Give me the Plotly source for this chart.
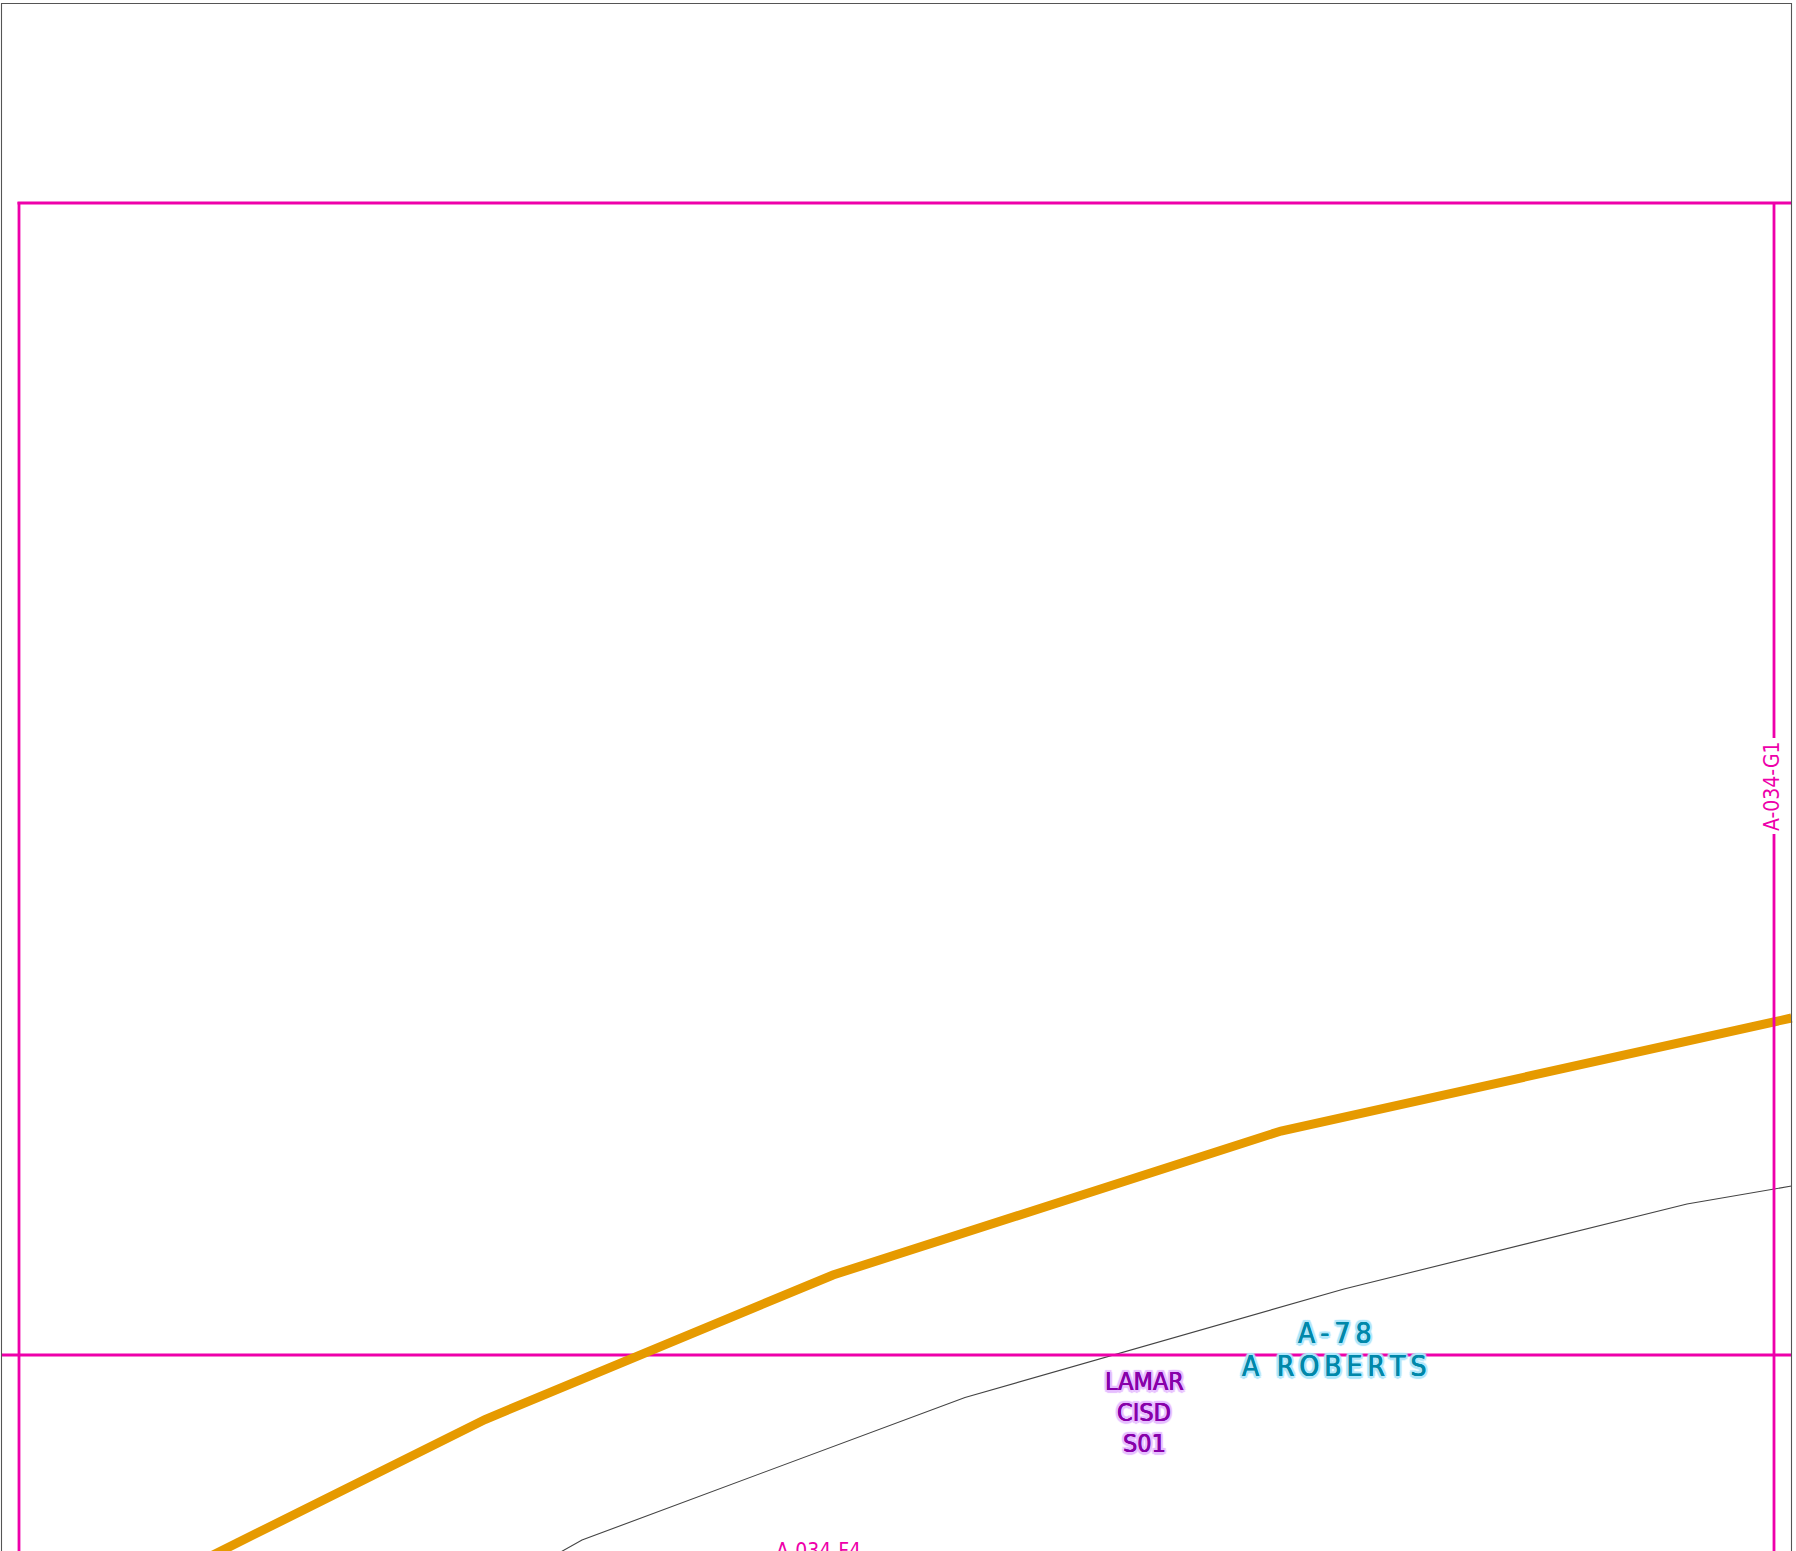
import plotly.graph_objects as go

WIDTH = 1796
HEIGHT = 1551

easement_x = [205, 485, 833, 1281, 1791.5]
easement_y = [1559, 1419.5, 1275, 1131, 1018]

parcel_x = [550, 582, 965, 1344, 1687, 1791.5]
parcel_y = [1558, 1540, 1397.5, 1289, 1204, 1186]

frame_x = [1.5, 1.5, 1791.5, 1791.5]
frame_y = [1560, 3.5, 3.5, 1560]

grid_top_x = [17.5, 1791]
grid_top_y = [203, 203]
grid_left_x = [19, 19]
grid_left_y = [202, 1560]
grid_mid_x = [1.5, 1791]
grid_mid_y = [1355, 1355]
grid_right_upper_x = [1774, 1774]
grid_right_upper_y = [203, 738]
grid_right_lower_x = [1774, 1774]
grid_right_lower_y = [834, 1560]

MAGENTA = "#EE00AA"

grid_labels = ["A-034-G1", "A-034-F4"]
grid_label_x = [1772, 818]
grid_label_y = [786, 1537]

district_lines = ["LAMAR", "CISD", "S01"]
district_x = [1144, 1144, 1144]
district_y = [1381, 1412, 1443]

abstract_lines = ["A\u2009-\u20097\u20098", "A\u2002\u2009R\u2009O\u2009B\u2009E\u2009R\u2009T\u2009S"]
abstract_x = [1334, 1334]
abstract_y = [1333, 1366]


def halo(text_colour, colour):
    thick = [(-0.3, 0), (0.3, 0)]
    offsets = [(-2.5, 0), (2.5, 0), (0, -2.5), (0, 2.5), (-2, -2), (2, -2), (-2, 2), (2, 2)]
    return ", ".join([f"{a}px {b}px 0 {text_colour}" for a, b in thick]
                     + [f"{a}px {b}px 1px {colour}" for a, b in offsets])


def line(x, y, colour, width):
    return go.Scatter(x=x, y=y, mode="lines", line=dict(color=colour, width=width),
                      hoverinfo="skip", showlegend=False)


fig = go.Figure()
fig.add_trace(line(parcel_x, parcel_y, "#444444", 1.1))
fig.add_trace(line(grid_mid_x, grid_mid_y, MAGENTA, 2.8))
fig.add_trace(line(easement_x, easement_y, "#E69A00", 9))
fig.add_trace(line(grid_top_x, grid_top_y, MAGENTA, 2.8))
fig.add_trace(line(grid_left_x, grid_left_y, MAGENTA, 2.8))
fig.add_trace(line(grid_right_upper_x, grid_right_upper_y, MAGENTA, 2.8))
fig.add_trace(line(grid_right_lower_x, grid_right_lower_y, MAGENTA, 2.8))
fig.add_trace(line(frame_x, frame_y, "#555555", 1.1))

FONT = "DejaVu Sans Condensed, DejaVu Sans, sans-serif"
annotations = [
    dict(x=grid_label_x[0], y=grid_label_y[0], text=grid_labels[0], textangle=-90,
         showarrow=False, xanchor="center", yanchor="middle",
         font=dict(family=FONT, size=21, color=MAGENTA)),
    dict(x=grid_label_x[1], y=grid_label_y[1], text=grid_labels[1],
         showarrow=False, xanchor="center", yanchor="top",
         font=dict(family=FONT, size=21, color=MAGENTA)),
]
for t, x, y in zip(district_lines, district_x, district_y):
    annotations.append(dict(x=x, y=y, text=t, showarrow=False, xanchor="center", yanchor="middle",
                            font=dict(family=FONT, size=25, color="#8800AA",
                                      shadow=halo("#8800AA", "#E6BEFF"))))
for t, x, y in zip(abstract_lines, abstract_x, abstract_y):
    annotations.append(dict(x=x, y=y, text=t, showarrow=False, xanchor="center", yanchor="middle",
                            font=dict(family=FONT, size=28, color="#0088AA",
                                      shadow=halo("#0088AA", "#B0E6FA"))))

fig.update_layout(
    width=WIDTH, height=HEIGHT, margin=dict(l=0, r=0, t=0, b=0),
    paper_bgcolor="white", plot_bgcolor="white", showlegend=False,
    xaxis=dict(range=[0, WIDTH], visible=False, fixedrange=True),
    yaxis=dict(range=[HEIGHT, 0], visible=False, fixedrange=True),
    annotations=annotations,
)
fig.write_html("out.html", config={"displayModeBar": False, "responsive": False},
               post_script="document.documentElement.style.overflow='hidden';document.body.style.margin='0';window.scrollTo(0,0);")
